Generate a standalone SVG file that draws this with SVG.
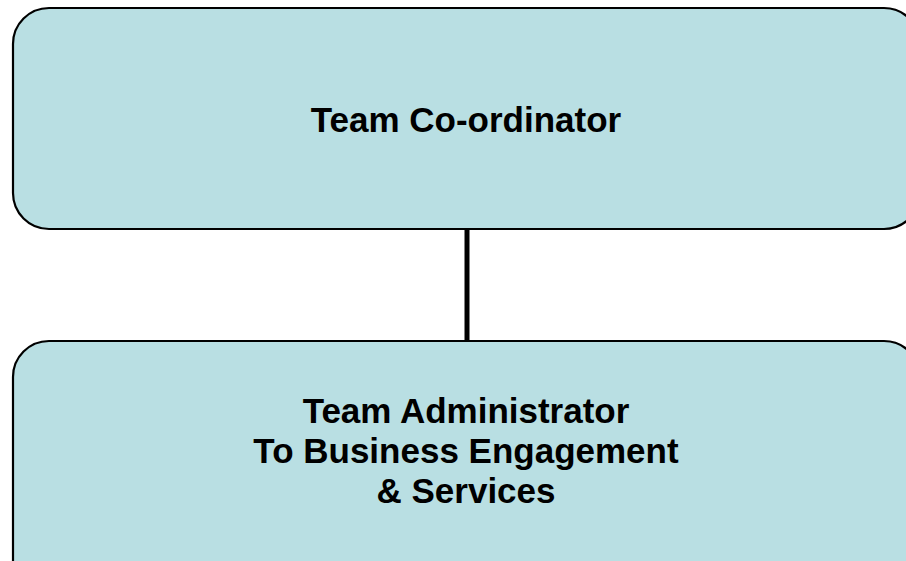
<svg xmlns="http://www.w3.org/2000/svg" width="906" height="561" viewBox="0 0 906 561">
<style>
.box{fill:#B9DFE3;stroke:#000;stroke-width:2.2}
.lbl{font-family:"Liberation Sans",Arial,sans-serif;font-weight:bold;font-size:35px;fill:#000;text-anchor:middle}
</style>
<rect x="0" y="0" width="906" height="561" fill="#fff"/>
<g id="connectors">
<line x1="467" y1="229" x2="467" y2="341" stroke="#000" stroke-width="5"/>
</g>
<g id="team-coordinator">
<rect class="box" x="13" y="8" width="907" height="221" rx="36" ry="36"/>
<text class="lbl" x="466" y="132">Team Co-ordinator</text>
</g>
<g id="team-administrator">
<rect class="box" x="13" y="341" width="907" height="260" rx="36" ry="36"/>
<text class="lbl" x="466" y="423">Team Administrator</text>
<text class="lbl" x="466" y="463">To Business Engagement</text>
<text class="lbl" x="466" y="503">&amp; Services</text>
</g>
</svg>
